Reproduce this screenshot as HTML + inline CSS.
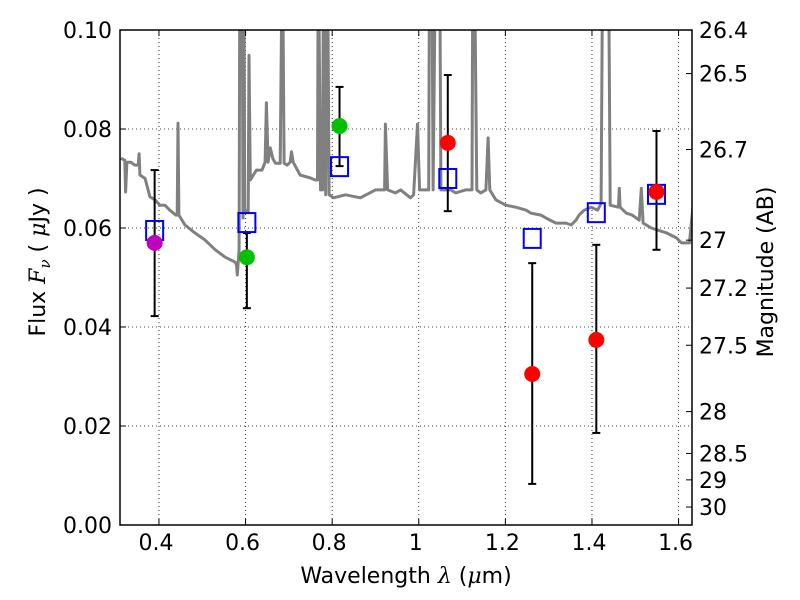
<!DOCTYPE html>
<html><head><meta charset="utf-8"><style>
html,body{margin:0;padding:0;background:#fff;}
svg{display:block;font-family:"DejaVu Sans","Liberation Sans",sans-serif;}
</style></head><body>
<svg id="chart" width="800" height="600" viewBox="0 0 800 600">
<defs><clipPath id="plotclip"><rect x="120" y="30" width="572" height="495"/></clipPath></defs>
<rect x="0" y="0" width="800" height="600" fill="#fff"/>
<g id="grid"></g>
<g id="spec" clip-path="url(#plotclip)"></g>
<g id="marks"></g>
<rect x="120" y="30" width="572" height="495" fill="none" stroke="#000" stroke-width="1.5"/>
<g id="axes"></g>
<text x="406" y="583" font-size="22" text-anchor="middle">Wavelength  <tspan font-family="'DejaVu Serif',serif" font-style="italic">λ</tspan> (<tspan font-family="'DejaVu Serif',serif" font-style="italic">μ</tspan>m)</text>
<text transform="translate(45,262) rotate(-90)" font-size="22" text-anchor="middle">Flux  <tspan font-family="'DejaVu Serif',serif" font-style="italic">F<tspan font-size="15" dy="5">ν</tspan></tspan><tspan dy="-5">  (  </tspan><tspan font-family="'DejaVu Serif',serif" font-style="italic">μ</tspan>Jy )</text>
<text transform="translate(773,272) rotate(-90)" font-size="22" text-anchor="middle">Magnitude (AB)</text>
</svg>
<script>
const specLam=[0.312,0.321,0.323,0.326,0.335,0.344,0.352,0.354,0.356,0.368,0.379,0.391,0.402,0.414,0.425,0.439,0.442,0.444,0.446,0.460,0.483,0.506,0.530,0.553,0.576,0.579,0.581,0.585,0.587,0.592,0.594,0.596,0.598,0.600,0.606,0.608,0.611,0.618,0.625,0.638,0.645,0.648,0.652,0.657,0.663,0.669,0.680,0.685,0.689,0.696,0.703,0.706,0.710,0.726,0.750,0.761,0.766,0.768,0.773,0.778,0.780,0.785,0.789,0.793,0.803,0.831,0.865,0.900,0.912,0.921,0.923,0.928,0.946,0.958,0.981,0.988,0.997,1.002,1.023,1.025,1.030,1.033,1.039,1.048,1.051,1.074,1.085,1.108,1.123,1.125,1.128,1.134,1.143,1.155,1.160,1.164,1.178,1.201,1.224,1.248,1.259,1.282,1.294,1.317,1.340,1.352,1.363,1.370,1.382,1.398,1.413,1.421,1.425,1.438,1.442,1.461,1.463,1.465,1.479,1.493,1.509,1.514,1.518,1.537,1.572,1.595,1.607,1.625,1.634];
const specFlux=[0.0741,0.0737,0.0673,0.0733,0.0733,0.0727,0.0727,0.0750,0.0707,0.0700,0.0663,0.0657,0.0646,0.0646,0.0636,0.0626,0.0626,0.0812,0.0626,0.0606,0.0590,0.0576,0.0556,0.0541,0.0531,0.0525,0.0505,0.0556,0.12,0.12,0.0620,0.12,0.0640,0.0632,0.0632,0.0949,0.0697,0.0707,0.0717,0.0717,0.0733,0.0853,0.0733,0.0762,0.0740,0.0731,0.0731,0.12,0.0731,0.0727,0.0733,0.0754,0.0733,0.0707,0.0701,0.0697,0.0697,0.12,0.0677,0.0677,0.12,0.0667,0.12,0.0667,0.0661,0.0667,0.0661,0.0677,0.0677,0.0677,0.0810,0.0677,0.0671,0.0677,0.0661,0.0667,0.0810,0.0677,0.0677,0.12,0.12,0.0677,0.12,0.12,0.0677,0.0677,0.0671,0.0677,0.0677,0.12,0.12,0.0677,0.0671,0.0677,0.0782,0.0677,0.0657,0.0646,0.0642,0.0636,0.0630,0.0626,0.0620,0.0610,0.0610,0.0606,0.0616,0.0626,0.0636,0.0642,0.0636,0.0650,0.12,0.12,0.0646,0.0642,0.0680,0.0642,0.0630,0.0626,0.0616,0.0680,0.0610,0.0600,0.0590,0.0580,0.0570,0.0570,0.0650];
const obsLam=[0.390,0.603,0.817,1.067,1.262,1.410,1.549];
const obsFlux=[0.0570,0.0541,0.0806,0.0772,0.0305,0.0374,0.0673];
const errHi=[0.0717,0.0590,0.0885,0.0909,0.0529,0.0566,0.0796];
const errLo=[0.0422,0.0438,0.0725,0.0634,0.0083,0.0186,0.0556];
const obsColor=['#bf00bf','#00c000','#00c000','#ff0000','#ff0000','#ff0000','#ff0000'];
const modelFlux=[0.0596,0.0612,0.0725,0.0701,0.0580,0.0632,0.0669];
const xTicks=[0.4,0.6,0.8,1.0,1.2,1.4,1.6];
const xTickLabels=['0.4','0.6','0.8','1','1.2','1.4','1.6'];
const yTicks=[0,0.02,0.04,0.06,0.08,0.10];
const yTickLabels=['0.00','0.02','0.04','0.06','0.08','0.10'];
const magTicks=[26.4,26.5,26.7,27,27.2,27.5,28,28.5,29,30];
const magTickLabels=['26.4','26.5','26.7','27','27.2','27.5','28','28.5','29','30'];

const NS='http://www.w3.org/2000/svg';
const X0=120,X1=692,Y0=525,Y1=30,LMIN=0.31,LMAX=1.631,FMIN=0,FMAX=0.1;
function sx(l){return X0+(l-LMIN)/(LMAX-LMIN)*(X1-X0);}
function sy(f){return Y0-(f-FMIN)/(FMAX-FMIN)*(Y0-Y1);}
function mk(tag,attrs,parent){const e=document.createElementNS(NS,tag);for(const k in attrs)e.setAttribute(k,attrs[k]);parent.appendChild(e);return e;}
const grid=document.getElementById('grid'),axes=document.getElementById('axes'),spec=document.getElementById('spec'),marks=document.getElementById('marks');

xTicks.forEach((t,i)=>{
  const x=sx(t);
  const g=mk('line',{x1:x,x2:x,y1:Y1,y2:Y0,stroke:'#000','stroke-width':0.8,'stroke-dasharray':'1,3'},grid);
  
  
  mk('line',{x1:x,x2:x,y1:Y0,y2:Y0-6,stroke:'#000','stroke-width':1},axes);
  mk('line',{x1:x,x2:x,y1:Y1,y2:Y1+6,stroke:'#000','stroke-width':1},axes);
  const tx=mk('text',{x:x-3,y:550,'font-size':22,'text-anchor':'middle'},axes);
  tx.textContent=xTickLabels[i];
  
  
});
yTicks.forEach((t,i)=>{
  const y=sy(t);
  if(i>0&&i<yTicks.length-1){
    const g=mk('line',{x1:X0,x2:X1,y1:y,y2:y,stroke:'#000','stroke-width':0.8,'stroke-dasharray':'1,3'},grid);
    
    
  }
  mk('line',{x1:X0,x2:X0+6,y1:y,y2:y,stroke:'#000','stroke-width':1},axes);
  const tx=mk('text',{x:112,y:y+8,'font-size':22,'text-anchor':'end'},axes);
  tx.textContent=yTickLabels[i];
  
  
});
magTicks.forEach((m,i)=>{
  const f=Math.pow(10,(23.9-m)/2.5);
  const y=sy(f);
  mk('line',{x1:X1,x2:X1-6,y1:y,y2:y,stroke:'#000','stroke-width':1},axes);
  const tx=mk('text',{x:699,y:y+8,'font-size':22,'text-anchor':'start'},axes);
  tx.textContent=magTickLabels[i];
  
  
});

const pts=specLam.map((l,i)=>sx(l).toFixed(1)+','+sy(specFlux[i]).toFixed(1)).join(' ');
const pl=mk('polyline',{points:pts,fill:'none',stroke:'#808080','stroke-width':3,'stroke-linejoin':'round'},spec);



obsLam.forEach((l,i)=>{
  const x=sx(l);
  const eb=mk('g',{},marks);
  
  
  mk('line',{x1:x,x2:x,y1:sy(errHi[i]),y2:sy(errLo[i]),stroke:'#000','stroke-width':2},eb);
  mk('line',{x1:x-4,x2:x+4,y1:sy(errHi[i]),y2:sy(errHi[i]),stroke:'#000','stroke-width':2},eb);
  mk('line',{x1:x-4,x2:x+4,y1:sy(errLo[i]),y2:sy(errLo[i]),stroke:'#000','stroke-width':2},eb);
  const sq=mk('rect',{x:x-8.5,y:sy(modelFlux[i])-9,width:17,height:19,fill:'none',stroke:'#0000ff','stroke-width':2},marks);
  
  
  const c=mk('circle',{cx:x,cy:sy(obsFlux[i]),r:8,fill:obsColor[i]},marks);
  
  
});
</script>
</body></html>
